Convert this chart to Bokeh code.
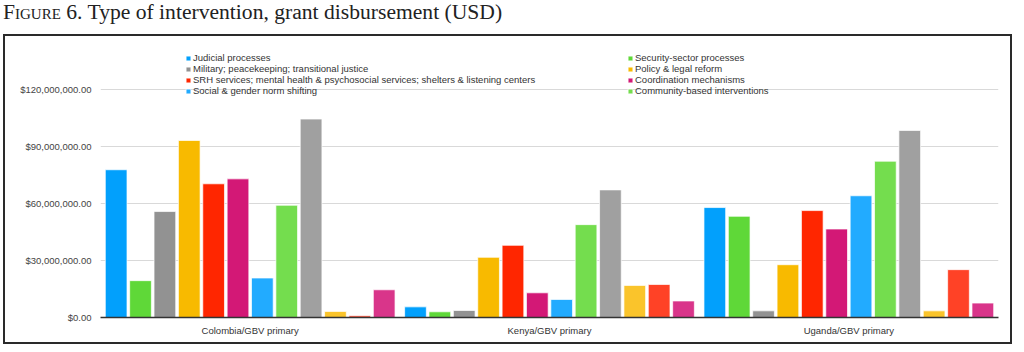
from bokeh.plotting import figure
from bokeh.models import FactorRange, Range1d, FixedTicker, NumeralTickFormatter, Legend, LegendItem, Div, ColumnDataSource
from bokeh.transform import dodge
from bokeh.layouts import column
from bokeh.embed import file_html
from bokeh.resources import INLINE

groups = ["Colombia/GBV primary", "Kenya/GBV primary", "Uganda/GBV primary"]

series_names = [
    "Judicial processes",
    "Security-sector processes",
    "Military; peacekeeping; transitional justice",
    "Policy & legal reform",
    "SRH services; mental health & psychosocial services; shelters & listening centers",
    "Coordination mechanisms",
    "Social & gender norm shifting",
    "Community-based interventions",
    "Series 9",
    "Series 10",
    "Series 11",
    "Series 12",
]

# values in USD, per series: [Colombia, Kenya, Uganda]
judicial = [77.8e6, 5.6e6, 57.9e6]
security = [19.4e6, 3.0e6, 53.3e6]
military = [55.8e6, 3.7e6, 3.5e6]
policy = [93.2e6, 31.7e6, 27.8e6]
srh = [70.4e6, 38.0e6, 56.3e6]
coordination = [73.0e6, 13.0e6, 46.6e6]
social = [20.8e6, 9.5e6, 64.1e6]
community = [59.1e6, 48.9e6, 82.3e6]
series9 = [104.5e6, 67.2e6, 98.5e6]
series10 = [3.2e6, 16.9e6, 3.5e6]
series11 = [0.9e6, 17.4e6, 25.2e6]
series12 = [14.6e6, 8.7e6, 7.6e6]

all_values = [judicial, security, military, policy, srh, coordination,
              social, community, series9, series10, series11, series12]

colors = ["#02A0FC", "#5FD838", "#929292", "#F8BA00", "#FF2600", "#D31876",
          "#22ABFF", "#74DD4E", "#A0A0A0", "#FAC42B", "#FF4226", "#D9358A"]

y_ticks = [0, 30e6, 60e6, 90e6, 120e6]

title = Div(
    text='<span style="font-variant: small-caps;">Figure 6.</span> Type of intervention, grant disbursement (USD)',
    width=1024, height=34, margin=0,
    styles={"font-family": "Liberation Serif", "font-size": "21.6px", "color": "#222",
            "padding-left": "3px", "line-height": "24px", "margin": "0"},
)

p = figure(
    x_range=FactorRange(factors=groups, range_padding=0, factor_padding=0),
    y_range=Range1d(0, 140.6e6),
    width=1009, height=310,
    output_backend="svg", toolbar_location=None,
    min_border_left=95, min_border_right=16, min_border_top=14, min_border_bottom=29,
    margin=0,
    styles={"border": "2px solid #2a2a2a", "margin-left": "3px"},
)
p.outline_line_color = None
p.background_fill_color = "white"

source = ColumnDataSource(dict(x=groups, **{f"s{i}": v for i, v in enumerate(all_values)}))

step = 0.0814
width = 0.0725
renderers = []
for i, (name, col) in enumerate(zip(series_names, colors)):
    r = p.vbar(x=dodge("x", (i - 5.5) * step, range=p.x_range), top=f"s{i}", width=width,
               source=source, fill_color=col, line_color="white", line_alpha=0.7, line_width=1)
    renderers.append(r)

p.xgrid.grid_line_color = None
p.ygrid.grid_line_color = "#d9d9d9"
p.ygrid.ticker = FixedTicker(ticks=y_ticks)

p.yaxis.ticker = FixedTicker(ticks=y_ticks)
p.yaxis.formatter = NumeralTickFormatter(format="$0,0.00")
p.yaxis.axis_line_color = None
p.yaxis.major_tick_line_color = None
p.yaxis.minor_tick_line_color = None
p.yaxis.major_tick_out = 0
p.yaxis.major_label_text_font = "Liberation Sans"
p.yaxis.major_label_text_font_size = "9.5px"
p.yaxis.major_label_text_color = "#444"
p.yaxis.major_label_standoff = 9

p.xaxis.axis_line_color = "#333"
p.xaxis.axis_line_width = 1.5
p.xaxis.major_tick_line_color = None
p.xaxis.minor_tick_line_color = None
p.xaxis.major_tick_out = 0
p.xaxis.major_label_text_font = "Liberation Sans"
p.xaxis.major_label_text_font_size = "9.5px"
p.xaxis.major_label_text_color = "#333"
p.xaxis.major_label_standoff = 7

def make_legend(idx, x, y):
    items = [LegendItem(label=series_names[i], renderers=[renderers[i]]) for i in idx]
    lg = Legend(items=items, location=(x, y), orientation="vertical",
                background_fill_alpha=0, border_line_color=None,
                padding=0, margin=0, spacing=0,
                glyph_width=6, glyph_height=6, label_height=10, label_standoff=2,
                label_text_font="Liberation Sans", label_text_font_size="9.5px",
                label_text_color="#333", label_text_line_height=0.95)
    return lg

p.add_layout(make_legend([0, 2, 4, 6], 85, 221))
p.add_layout(make_legend([1, 3, 5, 7], 527, 221))

layout = column(title, p, spacing=0)

open("out.html", "w").write(file_html(layout, INLINE))
